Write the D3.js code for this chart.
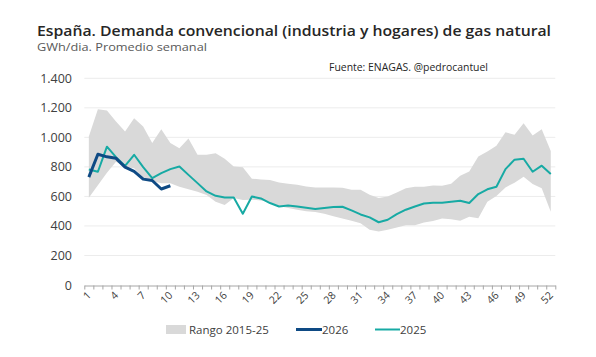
<!DOCTYPE html>
<html><head><meta charset="utf-8">
<script src="https://cdn.jsdelivr.net/npm/d3@7"></script>
<style>body{margin:0;background:#fff}svg{display:block}text{font-family:"Open Sans",sans-serif}</style>
</head><body><svg id="c" width="596" height="357"></svg>
<script>
const weeks = d3.range(1, 53);
const rangeUpper = [1006,1190,1182,1107,1040,1130,1073,961,1055,961,927,992,882,882,893,855,803,798,720,715,711,695,686,679,667,661,661,661,658,645,645,611,589,600,627,656,665,665,674,672,686,740,769,870,904,943,1035,1017,1096,1012,1055,907];
const rangeLower = [591,675,760,835,800,790,725,705,690,690,666,648,632,609,564,542,590,575,578,572,560,535,521,510,500,494,483,465,451,435,419,374,363,374,390,404,404,424,433,451,446,435,462,452,564,603,661,693,733,684,655,496];
const y2026 = [731,886,868,858,798,769,717,708,650,672];
const y2025 = [782,767,937,866,807,882,798,724,758,785,803,746,690,634,604,593,593,483,600,586,555,532,539,532,523,515,522,528,530,505,478,458,425,442,480,510,532,552,557,557,564,571,555,616,648,666,785,849,855,767,808,752];
const yTicks = [0,200,400,600,800,1000,1200,1400];
const xLabelWeeks = [1,4,7,10,13,16,19,22,25,28,31,34,37,40,43,46,49,52];
const legendItems = ["Rango 2015-25","2026","2025"];

const svg = d3.select("#c");
const X0 = 84.3, X1 = 555.3;
const x = d3.scaleLinear().domain([0.5, 52.5]).range([X0, X1]);
const y = d3.scaleLinear().domain([0, 1400]).range([285, 78.3]);
const fmt = v => d3.format(",")(v).replace(/,/g, ".");

// gridlines
svg.append("g").selectAll("line").data(yTicks.filter(d => d > 0)).join("line")
  .attr("x1", X0).attr("x2", X1).attr("y1", d => y(d)).attr("y2", d => y(d))
  .attr("stroke", "#ececec").attr("stroke-width", 1);

// y labels
svg.append("g").selectAll("text").data(yTicks).join("text")
  .attr("x", 72).attr("y", d => y(d) + 4.5).attr("text-anchor", "end")
  .attr("font-size", 12.5).attr("fill", "#404040").text(fmt);

// band
const area = d3.area().x((d, i) => x(weeks[i])).y0((d, i) => y(rangeLower[i])).y1((d, i) => y(rangeUpper[i]));
svg.append("path").datum(rangeUpper).attr("d", area).attr("fill", "#d9d9d9");

// lines
const line = d3.line().x((d, i) => x(weeks[i])).y(d => y(d));
svg.append("path").datum(y2025).attr("d", line).attr("fill", "none")
  .attr("stroke", "#17aaa4").attr("stroke-width", 2).attr("stroke-linejoin", "round");
svg.append("path").datum(y2026).attr("d", line).attr("fill", "none")
  .attr("stroke", "#0e4a84").attr("stroke-width", 3).attr("stroke-linejoin", "round");

// x axis
const ax = svg.append("g").attr("transform", "translate(0,285.5)")
  .call(d3.axisBottom(x).tickValues(d3.range(0.5, 53, 1)).tickFormat("").tickSize(4).tickSizeOuter(0));
ax.select(".domain").attr("stroke", "#a6a6a6");
ax.selectAll(".tick line").attr("stroke", "#a6a6a6");

svg.append("g").selectAll("text").data(xLabelWeeks).join("text")
  .attr("transform", d => `translate(${x(d) + 3},${296}) rotate(-45)`)
  .attr("text-anchor", "end").attr("font-size", 10.5).attr("fill", "#404040").text(d => d);

// titles
svg.append("text").attr("x", 37).attr("y", 36).attr("font-size", 15).attr("font-weight", 600)
  .attr("textLength", 514).attr("lengthAdjust", "spacingAndGlyphs")
  .attr("fill", "#262626").text("España. Demanda convencional (industria y hogares) de gas natural");
svg.append("text").attr("x", 37).attr("y", 50.5).attr("font-size", 11)
  .attr("textLength", 170).attr("lengthAdjust", "spacingAndGlyphs")
  .attr("fill", "#595959").text("GWh/dia. Promedio semanal");
svg.append("text").attr("x", 329).attr("y", 71).attr("font-size", 10)
  .attr("textLength", 159).attr("lengthAdjust", "spacingAndGlyphs")
  .attr("fill", "#262626").text("Fuente: ENAGAS. @pedrocantuel");

// legend
const lg = svg.append("g");
lg.append("rect").attr("x", 166).attr("y", 325).attr("width", 20).attr("height", 9).attr("fill", "#d9d9d9");
lg.append("text").attr("x", 189).attr("y", 333.5).attr("font-size", 11.5).attr("fill", "#404040").text(legendItems[0]);
lg.append("line").attr("x1", 296).attr("x2", 322).attr("y1", 329.5).attr("y2", 329.5).attr("stroke", "#0e4a84").attr("stroke-width", 3);
lg.append("text").attr("x", 322).attr("y", 333.5).attr("font-size", 11.5).attr("fill", "#404040").text(legendItems[1]);
lg.append("line").attr("x1", 375).attr("x2", 400).attr("y1", 329.5).attr("y2", 329.5).attr("stroke", "#17aaa4").attr("stroke-width", 2);
lg.append("text").attr("x", 400).attr("y", 333.5).attr("font-size", 11.5).attr("fill", "#404040").text(legendItems[2]);
</script></body></html>
